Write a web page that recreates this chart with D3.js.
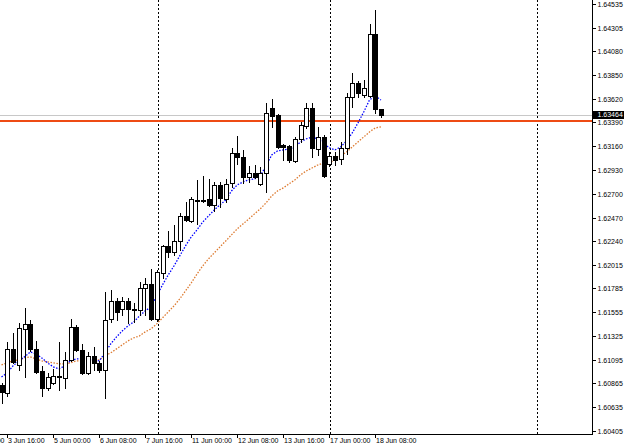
<!DOCTYPE html>
<html>
<head>
<meta charset="utf-8">
<script src="https://cdn.jsdelivr.net/npm/d3@7"></script>
<style>
  body { margin: 0; background: #fff; }
  svg { display: block; }
  text { font-family: "Liberation Sans", Arial, sans-serif; font-size: 7px; fill: #000; }
</style>
</head>
<body>
<svg width="625" height="444"></svg>
<script>
// H4 bars, 3 Jun 12:00 .. 18 Jun 12:00
const opens = [1.60851, 1.60774, 1.61199, 1.61044, 1.61393, 1.61441, 1.61199, 1.60986, 1.60822, 1.60870,
  1.60938, 1.60919, 1.61093, 1.61412, 1.61190, 1.60967, 1.61132, 1.61064, 1.60996, 1.61489,
  1.61663, 1.61586, 1.61663, 1.61576, 1.61576, 1.61789, 1.61828, 1.61489, 1.61934, 1.62195,
  1.62137, 1.62243, 1.62485, 1.62437, 1.62640, 1.62630, 1.62650, 1.62592, 1.62785, 1.62650,
  1.62804, 1.63095, 1.63056, 1.62862, 1.62901, 1.62795, 1.62901, 1.63530, 1.63462, 1.63172,
  1.63162, 1.63017, 1.63230, 1.63356, 1.63530, 1.63133, 1.63249, 1.62988, 1.63066, 1.63037,
  1.63143, 1.63636, 1.63771, 1.63655, 1.63646, 1.64245, 1.63520];
const highs = [1.60870, 1.61267, 1.61354, 1.61451, 1.61596, 1.61480, 1.61277, 1.61035, 1.60967, 1.61006,
  1.61267, 1.61170, 1.61489, 1.61431, 1.61248, 1.61170, 1.61219, 1.61083, 1.61750, 1.61770,
  1.61692, 1.61702, 1.61692, 1.61644, 1.61847, 1.61886, 1.61973, 1.61963, 1.62205, 1.62340,
  1.62398, 1.62514, 1.62621, 1.62669, 1.62833, 1.62872, 1.62843, 1.62814, 1.62814, 1.62843,
  1.63143, 1.63259, 1.63124, 1.62969, 1.62978, 1.62959, 1.63578, 1.63617, 1.63472, 1.63182,
  1.63172, 1.63249, 1.63394, 1.63578, 1.63578, 1.63346, 1.63269, 1.63104, 1.63104, 1.63201,
  1.63675, 1.63868, 1.63791, 1.63800, 1.64342, 1.64477, 1.63520];
const lows = [1.60677, 1.60745, 1.61064, 1.60996, 1.60928, 1.61180, 1.60967, 1.60745, 1.60803, 1.60861,
  1.60803, 1.60822, 1.61083, 1.61180, 1.60957, 1.60957, 1.60996, 1.60977, 1.60725, 1.61460,
  1.61480, 1.61528, 1.61451, 1.61460, 1.61528, 1.61528, 1.61480, 1.61470, 1.61886, 1.62089,
  1.62108, 1.62157, 1.62437, 1.62427, 1.62408, 1.62621, 1.62582, 1.62534, 1.62572, 1.62621,
  1.62766, 1.62988, 1.62804, 1.62814, 1.62853, 1.62785, 1.62717, 1.63346, 1.63143, 1.63027,
  1.63008, 1.63008, 1.63201, 1.63336, 1.63056, 1.63075, 1.62862, 1.62969, 1.62978, 1.62988,
  1.63085, 1.63539, 1.63636, 1.63636, 1.63636, 1.63481, 1.63443];
const closes = [1.60783, 1.61199, 1.61073, 1.61402, 1.61441, 1.61199, 1.60977, 1.60822, 1.60928, 1.60938,
  1.60928, 1.61093, 1.61412, 1.61190, 1.60967, 1.61132, 1.61064, 1.60996, 1.61480, 1.61663,
  1.61557, 1.61663, 1.61586, 1.61586, 1.61789, 1.61828, 1.61489, 1.61944, 1.62195, 1.62137,
  1.62243, 1.62485, 1.62447, 1.62650, 1.62630, 1.62640, 1.62592, 1.62785, 1.62659, 1.62795,
  1.63095, 1.63056, 1.62862, 1.62901, 1.62862, 1.62901, 1.63481, 1.63452, 1.63153, 1.63153,
  1.63027, 1.63230, 1.63365, 1.63530, 1.63143, 1.63249, 1.62872, 1.63066, 1.63027, 1.63143,
  1.63636, 1.63771, 1.63675, 1.63723, 1.64245, 1.63520, 1.63462];

// moving averages as they appear on the chart
const maFast = [1.60928, 1.60967, 1.61035, 1.61083, 1.61122, 1.61170, 1.61151, 1.61112, 1.61064, 1.61025,
  1.61006, 1.61035, 1.61083, 1.61103, 1.61103, 1.61103, 1.61093, 1.61083, 1.61161, 1.61248,
  1.61315, 1.61373, 1.61422, 1.61460, 1.61518, 1.61567, 1.61605, 1.61712, 1.61818, 1.61915,
  1.62002, 1.62099, 1.62195, 1.62282, 1.62350, 1.62427, 1.62485, 1.62543, 1.62592, 1.62640,
  1.62727, 1.62785, 1.62814, 1.62833, 1.62843, 1.62872, 1.62969, 1.63075, 1.63114, 1.63124,
  1.63133, 1.63153, 1.63201, 1.63230, 1.63249, 1.63230, 1.63191, 1.63143, 1.63124, 1.63153,
  1.63211, 1.63288, 1.63385, 1.63491, 1.63607, 1.63646, 1.63607];
const maSlow = [1.61044, 1.61064, 1.61083, 1.61093, 1.61112, 1.61122, 1.61103, 1.61083, 1.61073, 1.61064,
  1.61054, 1.61054, 1.61064, 1.61083, 1.61083, 1.61083, 1.61083, 1.61093, 1.61132, 1.61161,
  1.61199, 1.61238, 1.61277, 1.61306, 1.61325, 1.61364, 1.61393, 1.61441, 1.61499, 1.61557,
  1.61615, 1.61683, 1.61760, 1.61837, 1.61924, 1.62002, 1.62070, 1.62128, 1.62186, 1.62243,
  1.62302, 1.62360, 1.62408, 1.62456, 1.62505, 1.62553, 1.62611, 1.62679, 1.62727, 1.62756,
  1.62795, 1.62833, 1.62882, 1.62920, 1.62949, 1.62978, 1.62998, 1.62998, 1.63027, 1.63066,
  1.63104, 1.63153, 1.63201, 1.63249, 1.63298, 1.63336, 1.63346];

// axis labels
const yTicks = ["1.64535", "1.64305", "1.64080", "1.63850", "1.63620", "1.63390", "1.63160", "1.62930",
  "1.62700", "1.62470", "1.62240", "1.62015", "1.61785", "1.61555", "1.61325", "1.61095", "1.60865",
  "1.60635", "1.60405"];
const xTickBars = [-7, 1, 9, 17, 25, 33, 41, 49, 57, 65];
const xTickLabels = ["31 May 08:00", "3 Jun 16:00", "5 Jun 00:00", "6 Jun 08:00", "7 Jun 16:00",
  "11 Jun 00:00", "12 Jun 08:00", "13 Jun 16:00", "17 Jun 00:00", "18 Jun 08:00"];
const separatorBars = [27, 57, 93];
const bidPrice = 1.63464;
const hLinePrice = 1.63400;

const plotRight = 592, plotBottom = 434;

const svg = d3.select("svg");

const x = d3.scaleLinear().domain([0, 66]).range([1.5, 381]);
const y = d3.scaleLinear().domain([1.60405, 1.64535]).range([431, 4]);
const px = i => Math.round(x(i)) + 0.5;

svg.append("defs").append("clipPath").attr("id", "plot")
  .append("rect").attr("x", 0).attr("y", 0).attr("width", plotRight).attr("height", plotBottom);

const plot = svg.append("g").attr("clip-path", "url(#plot)");

// period separators
plot.selectAll("line.sep")
  .data(separatorBars)
  .enter().append("line")
  .attr("class", "sep")
  .attr("x1", d => px(d) + 1).attr("x2", d => px(d) + 1)
  .attr("y1", 0).attr("y2", plotBottom)
  .attr("stroke", "#000")
  .attr("stroke-dasharray", "2,2")
  .attr("shape-rendering", "crispEdges");

// bid line and horizontal line
plot.append("line")
  .attr("x1", 0).attr("x2", plotRight)
  .attr("y1", Math.round(y(bidPrice)) + 0.5).attr("y2", Math.round(y(bidPrice)) + 0.5)
  .attr("stroke", "#c8c8c8").attr("stroke-width", 1)
  .attr("shape-rendering", "crispEdges");
plot.append("line")
  .attr("x1", 0).attr("x2", plotRight)
  .attr("y1", Math.round(y(hLinePrice))).attr("y2", Math.round(y(hLinePrice)))
  .attr("stroke", "#ee4b14").attr("stroke-width", 2)
  .attr("shape-rendering", "crispEdges");

// moving averages
const line = d3.line().x((d, i) => x(i)).y(d => y(d));
plot.append("path").datum(maSlow)
  .attr("d", line).attr("fill", "none")
  .attr("stroke", "#dd7a30").attr("stroke-width", 1.3).attr("stroke-dasharray", "1.5,1.5");
plot.append("path").datum(maFast)
  .attr("d", line).attr("fill", "none")
  .attr("stroke", "#0000ff").attr("stroke-width", 1.3).attr("stroke-dasharray", "1.5,1.5");

// candles
const bars = opens.map((o, i) => ({ i: i, o: o, h: highs[i], l: lows[i], c: closes[i] }));
const candle = plot.selectAll("g.candle")
  .data(bars)
  .enter().append("g")
  .attr("class", "candle")
  .attr("shape-rendering", "crispEdges");

candle.append("line")
  .attr("x1", d => px(d.i)).attr("x2", d => px(d.i))
  .attr("y1", d => Math.round(y(d.h))).attr("y2", d => Math.round(y(d.l)) + 1)
  .attr("stroke", "#000");

candle.append("rect")
  .attr("x", d => px(d.i) - 2)
  .attr("y", d => Math.round(y(Math.max(d.o, d.c))) + 0.5)
  .attr("width", 4)
  .attr("height", d => Math.max(0.01, Math.round(y(Math.min(d.o, d.c))) - Math.round(y(Math.max(d.o, d.c)))))
  .attr("fill", d => d.c >= d.o ? "#fff" : "#000")
  .attr("stroke", "#000");

// right price axis
const yAxis = svg.append("g").attr("transform", `translate(${plotRight + 0.5},0)`);
yAxis.append("line")
  .attr("x1", 0).attr("x2", 0).attr("y1", 0).attr("y2", plotBottom)
  .attr("stroke", "#000").attr("shape-rendering", "crispEdges");
const yt = yAxis.selectAll("g.tick")
  .data(yTicks)
  .enter().append("g")
  .attr("class", "tick")
  .attr("transform", d => `translate(0,${Math.round(y(+d)) + 0.5})`);
yt.append("line").attr("x1", 0).attr("x2", 3).attr("stroke", "#000").attr("shape-rendering", "crispEdges");
yt.append("text").attr("x", 5).attr("dy", "0.35em").text(d => d);

// bid price label
const bidY = Math.round(y(bidPrice));
yAxis.append("rect")
  .attr("x", 0.5).attr("y", bidY - 4).attr("width", 31).attr("height", 8)
  .attr("fill", "#000");
yAxis.append("text")
  .attr("x", 5).attr("y", bidY).attr("dy", "0.35em")
  .style("fill", "#fff")
  .text(d3.format(".5f")(bidPrice));

// bottom time axis
const xAxis = svg.append("g").attr("transform", `translate(0,${plotBottom + 0.5})`);
xAxis.append("line")
  .attr("x1", 0).attr("x2", plotRight + 1).attr("y1", 0).attr("y2", 0)
  .attr("stroke", "#000").attr("shape-rendering", "crispEdges");
const xt = xAxis.selectAll("g.tick")
  .data(xTickBars)
  .enter().append("g")
  .attr("class", "tick")
  .attr("transform", d => `translate(${px(d) - 0.5},0)`);
xt.append("line").attr("y1", 0).attr("y2", 3).attr("stroke", "#000").attr("shape-rendering", "crispEdges");
xt.append("text").attr("x", 1).attr("y", 8).text((d, i) => xTickLabels[i]);
</script>
</body>
</html>
